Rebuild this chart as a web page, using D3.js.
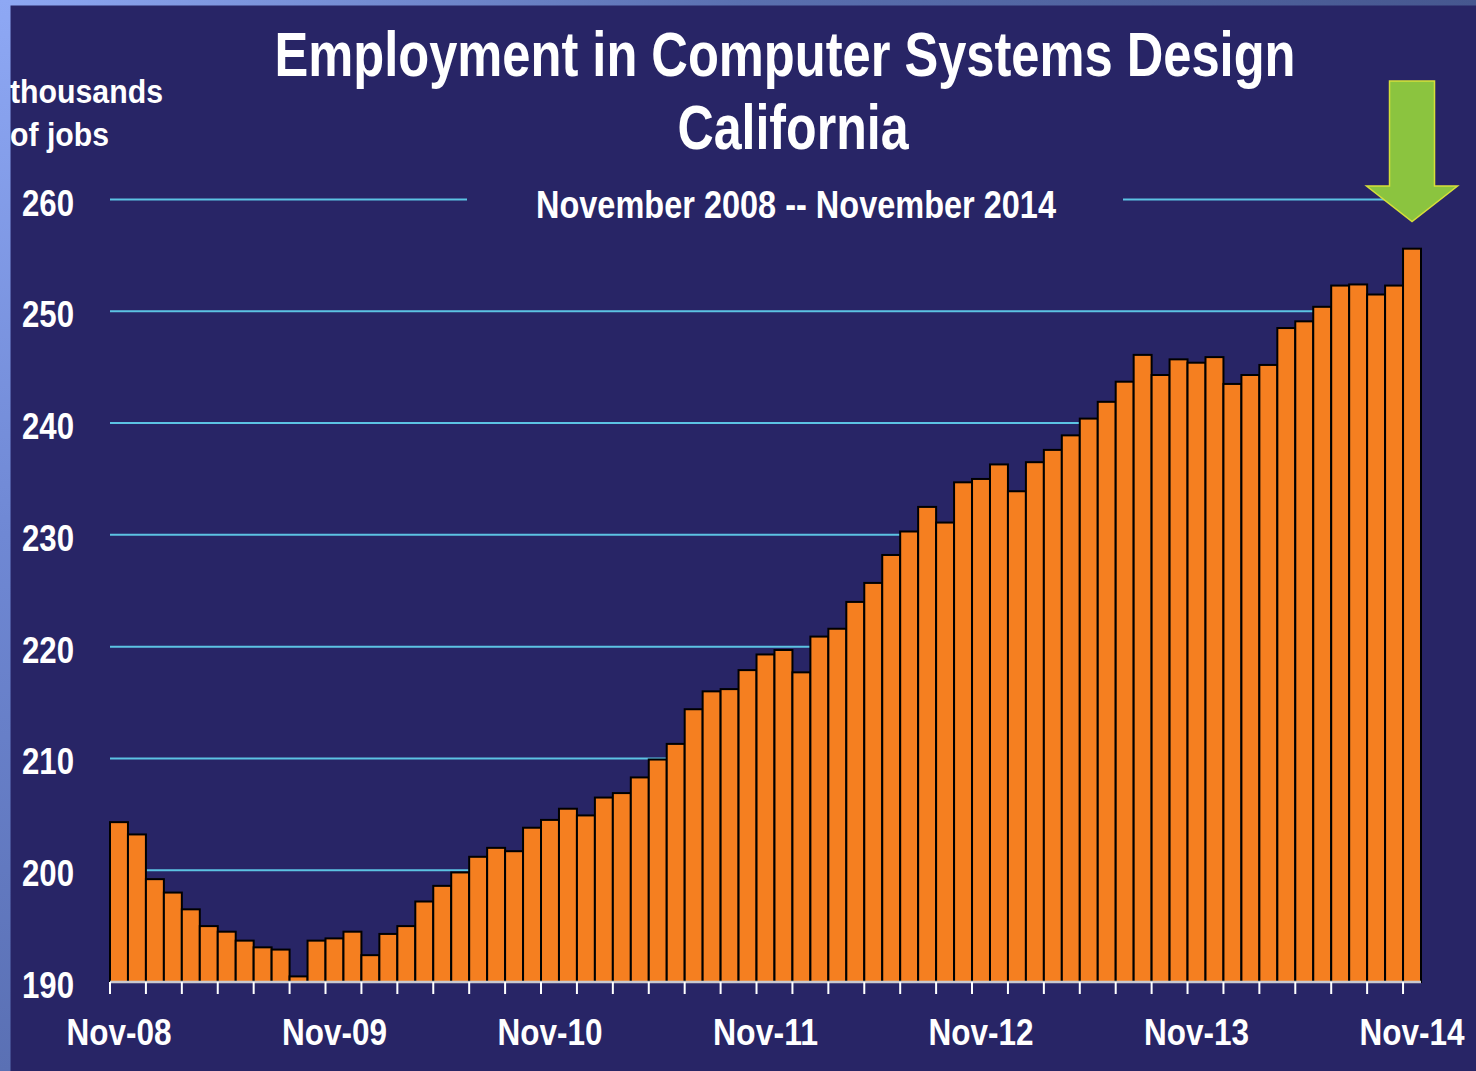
<!DOCTYPE html>
<html>
<head>
<meta charset="utf-8">
<script src="https://cdn.jsdelivr.net/npm/d3@7/dist/d3.min.js"></script>
<style>
  html, body { margin: 0; padding: 0; background: #282566; }
  svg { display: block; }
  text { font-family: "Liberation Sans Narrow", "Arial Narrow", "Liberation Sans", Arial, sans-serif; font-weight: bold; fill: #ffffff; }
</style>
</head>
<body>
<svg id="chart" width="1476" height="1071"></svg>
<script>
// Monthly employment, computer systems design, California (thousands of jobs)
const months = [
  "Nov-08","Dec-08","Jan-09","Feb-09","Mar-09","Apr-09","May-09","Jun-09","Jul-09","Aug-09","Sep-09","Oct-09",
  "Nov-09","Dec-09","Jan-10","Feb-10","Mar-10","Apr-10","May-10","Jun-10","Jul-10","Aug-10","Sep-10","Oct-10",
  "Nov-10","Dec-10","Jan-11","Feb-11","Mar-11","Apr-11","May-11","Jun-11","Jul-11","Aug-11","Sep-11","Oct-11",
  "Nov-11","Dec-11","Jan-12","Feb-12","Mar-12","Apr-12","May-12","Jun-12","Jul-12","Aug-12","Sep-12","Oct-12",
  "Nov-12","Dec-12","Jan-13","Feb-13","Mar-13","Apr-13","May-13","Jun-13","Jul-13","Aug-13","Sep-13","Oct-13",
  "Nov-13","Dec-13","Jan-14","Feb-14","Mar-14","Apr-14","May-14","Jun-14","Jul-14","Aug-14","Sep-14","Oct-14",
  "Nov-14"
];

const jobs = [
  204.3, 203.2, 199.2, 198.0, 196.5, 195.0, 194.5, 193.7, 193.1, 192.9, 190.5, 193.7,
  193.9, 194.5, 192.4, 194.3, 195.0, 197.2, 198.6, 199.8, 201.2, 202.0, 201.7, 203.8,
  204.5, 205.5, 204.9, 206.5, 206.9, 208.3, 209.9, 211.3, 214.4, 216.0, 216.2, 217.9,
  219.3, 219.7, 217.7, 220.9, 221.6, 224.0, 225.7, 228.2, 230.3, 232.5, 231.1, 234.7,
  235.0, 236.3, 233.9, 236.5, 237.6, 238.9, 240.4, 241.9, 243.7, 246.1, 244.3, 245.7,
  245.4, 245.9, 243.5, 244.3, 245.2, 248.5, 249.1, 250.4, 252.3, 252.4, 251.5, 252.3,
  255.6
];

const yTicks = [190, 200, 210, 220, 230, 240, 250, 260];
const xLabels = ["Nov-08", "Nov-09", "Nov-10", "Nov-11", "Nov-12", "Nov-13", "Nov-14"];

const titleLines = ["Employment in Computer Systems Design", "California"];
const subtitle = "November 2008 -- November 2014";
const unitLines = ["thousands", "of jobs"];

(function draw() {
  const W = 1476, H = 1071;
  const plotLeft = 110, plotRight = 1421, plotTop = 199.5, plotBottom = 982;

  const svg = d3.select("#chart");
  const defs = svg.append("defs");

  // Slide background with light-blue frame edges
  svg.append("rect").attr("width", W).attr("height", H).attr("fill", "#282566");

  const gLeft = defs.append("linearGradient").attr("id", "edgeLeft")
    .attr("x1", 0).attr("y1", 0).attr("x2", 0).attr("y2", 1);
  gLeft.append("stop").attr("offset", 0).attr("stop-color", "#8ea8f4");
  gLeft.append("stop").attr("offset", 0.5).attr("stop-color", "#6f88d4");
  gLeft.append("stop").attr("offset", 1).attr("stop-color", "#5a70b4");

  const gTop = defs.append("linearGradient").attr("id", "edgeTop")
    .attr("x1", 0).attr("y1", 0).attr("x2", 1).attr("y2", 0);
  gTop.append("stop").attr("offset", 0).attr("stop-color", "#8ea8f4");
  gTop.append("stop").attr("offset", 0.5).attr("stop-color", "#5a70b0");
  gTop.append("stop").attr("offset", 1).attr("stop-color", "#46578f");

  svg.append("rect").attr("x", 0).attr("y", 0).attr("width", W).attr("height", 5.5).attr("fill", "url(#edgeTop)");
  svg.append("rect").attr("x", 0).attr("y", 0).attr("width", 10.5).attr("height", H).attr("fill", "url(#edgeLeft)");

  // Scales
  const x = d3.scaleBand().domain(months).range([plotLeft, plotRight]).padding(0);
  const y = d3.scaleLinear().domain([190, 260]).range([plotBottom, plotTop]);

  // Horizontal grid lines
  svg.append("g").selectAll("line")
    .data(yTicks.filter(v => v > 190))
    .join("line")
    .attr("x1", plotLeft).attr("x2", plotRight)
    .attr("y1", d => y(d)).attr("y2", d => y(d))
    .attr("stroke", "#5cc3e3").attr("stroke-width", 2);

  // Bars
  svg.append("g").selectAll("rect")
    .data(jobs)
    .join("rect")
    .attr("x", (d, i) => x(months[i]))
    .attr("y", d => y(d))
    .attr("width", x.bandwidth())
    .attr("height", d => y(190) - y(d))
    .attr("fill", "#f57f20")
    .attr("stroke", "#000000")
    .attr("stroke-width", 2);

  // Bottom axis: baseline, a tick every second month, yearly labels
  const axisG = svg.append("g");
  axisG.append("line")
    .attr("x1", plotLeft).attr("x2", plotRight)
    .attr("y1", plotBottom).attr("y2", plotBottom)
    .attr("stroke", "#c9c9cf").attr("stroke-width", 2.5);

  axisG.selectAll("line.tick")
    .data(months.filter((m, i) => i % 2 === 0))
    .join("line")
    .attr("class", "tick")
    .attr("x1", d => x(d)).attr("x2", d => x(d))
    .attr("y1", plotBottom).attr("y2", plotBottom + 12)
    .attr("stroke", "#ffffff").attr("stroke-width", 2);

  axisG.selectAll("text")
    .data(xLabels)
    .join("text")
    .attr("x", d => x(d) + x.bandwidth() / 2)
    .attr("y", 1045)
    .attr("text-anchor", "middle")
    .attr("font-size", 36)
    .attr("textLength", 105)
    .attr("lengthAdjust", "spacingAndGlyphs")
    .text(d => d);

  // Left value labels
  svg.append("g").selectAll("text")
    .data(yTicks)
    .join("text")
    .attr("x", 74)
    .attr("y", d => y(d) + 16)
    .attr("text-anchor", "end")
    .attr("font-size", 37)
    .attr("textLength", 52)
    .attr("lengthAdjust", "spacingAndGlyphs")
    .text(d => d);

  // Unit label
  svg.append("g").selectAll("text")
    .data(unitLines)
    .join("text")
    .attr("x", 10)
    .attr("y", (d, i) => 103 + i * 43)
    .attr("font-size", 33)
    .attr("textLength", (d, i) => i === 0 ? 153 : 99)
    .attr("lengthAdjust", "spacingAndGlyphs")
    .text(d => d);

  // Title
  svg.append("text")
    .attr("x", 785).attr("y", 76)
    .attr("text-anchor", "middle")
    .attr("font-size", 63)
    .attr("textLength", 1021)
    .attr("lengthAdjust", "spacingAndGlyphs")
    .text(titleLines[0]);
  svg.append("text")
    .attr("x", 793).attr("y", 149)
    .attr("text-anchor", "middle")
    .attr("font-size", 63)
    .attr("textLength", 231)
    .attr("lengthAdjust", "spacingAndGlyphs")
    .text(titleLines[1]);

  // Subtitle sits on a plate that interrupts the top grid line
  svg.append("rect")
    .attr("x", 467).attr("y", 180).attr("width", 656).attr("height", 50)
    .attr("fill", "#282566");
  svg.append("text")
    .attr("x", 796).attr("y", 218)
    .attr("text-anchor", "middle")
    .attr("font-size", 38)
    .attr("textLength", 520)
    .attr("lengthAdjust", "spacingAndGlyphs")
    .text(subtitle);

  // Down arrow pointing at the latest month
  const tipX = x(months[months.length - 1]) + x.bandwidth() / 2;
  const arrow = [
    [tipX - 22.5, 81], [tipX + 22.5, 81], [tipX + 22.5, 186], [tipX + 45.5, 186],
    [tipX, 221.5], [tipX - 45.5, 186], [tipX - 22.5, 186]
  ];
  svg.append("path")
    .attr("d", d3.line()(arrow) + "Z")
    .attr("fill", "#8bc43f")
    .attr("stroke", "#d6df3a")
    .attr("stroke-width", 1.5)
    .attr("stroke-linejoin", "miter");
})();
</script>
</body>
</html>
